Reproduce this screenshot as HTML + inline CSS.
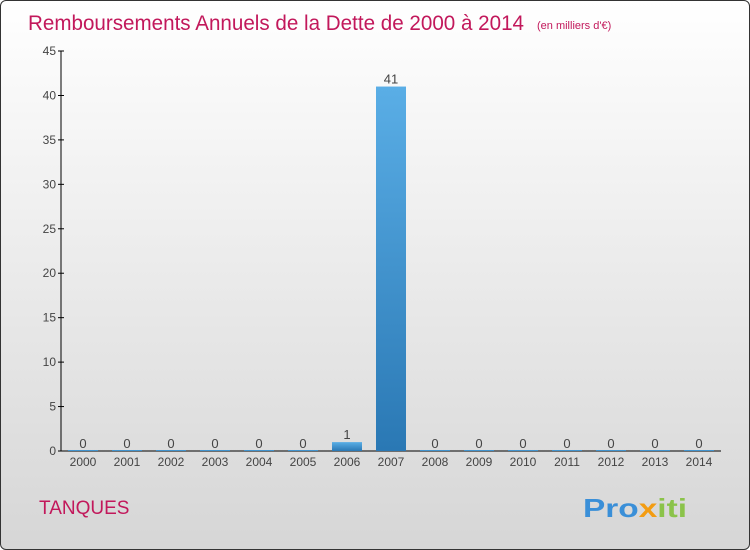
<!DOCTYPE html>
<html><head><meta charset="utf-8"><style>
body{margin:0;}
#c{position:relative;width:748px;height:548px;border:1px solid #333;border-radius:6px;overflow:hidden;background:linear-gradient(#ffffff,#d6d6d6);font-family:"Liberation Sans",sans-serif;}
svg{position:absolute;left:0;top:0;}
</style></head><body>
<div id="c">
<svg id="s" width="750" height="550">
<defs><linearGradient id="g" x1="0" y1="0" x2="0" y2="1"><stop offset="0" stop-color="#5aaee6"/><stop offset="1" stop-color="#2a78b4"/></linearGradient></defs>
<text x="27" y="29" font-size="21" fill="#c2185b" textLength="496" lengthAdjust="spacingAndGlyphs">Remboursements Annuels de la Dette de 2000 à 2014</text>
<text x="536" y="28" font-size="11" fill="#c2185b">(en milliers d'€)</text>
<text x="38" y="513" font-size="19" fill="#c2185b">TANQUES</text>
<text x="582" y="516" font-size="26" font-weight="bold" textLength="104" lengthAdjust="spacingAndGlyphs"><tspan fill="#3a8fd8">Pro</tspan><tspan fill="#f39c12">x</tspan><tspan fill="#8bc34a">iti</tspan></text>
</svg>
</div>
<script>
const years=["2000","2001","2002","2003","2004","2005","2006","2007","2008","2009","2010","2011","2012","2013","2014"];
const values=[0,0,0,0,0,0,1,41,0,0,0,0,0,0,0];
const yTicks=[0,5,10,15,20,25,30,35,40,45];
const NS="http://www.w3.org/2000/svg",s=document.getElementById('s');
const y=v=>450-v*400/45, x=i=>82+i*44;
function mk(t,a){const e=document.createElementNS(NS,t);for(const k in a)e.setAttribute(k,a[k]);s.appendChild(e);return e;}
let ax=mk('line',{x1:60,y1:50,x2:60,y2:450,stroke:'#000'});


let bx=mk('line',{x1:60,y1:450,x2:720,y2:450,stroke:'#000'});


yTicks.forEach(v=>{
 const tk=mk('line',{x1:57,y1:y(v),x2:63,y2:y(v),stroke:'#000'});
 
 
 const t=mk('text',{x:55,y:y(v)+4,'font-size':12,fill:'#444','text-anchor':'end'});t.textContent=v;
 
 
});
years.forEach((yr,i)=>{
 const cx=x(i),v=values[i];
 const b=mk('rect',{x:cx-15,y:y(v)-(v>0?0:1),width:30,height:Math.max(450-y(v),1),fill:'url(#g)'});
 
 
 const l=mk('text',{x:cx,y:y(v)-3,'font-size':13,fill:'#444','text-anchor':'middle'});l.textContent=v;
 
 
 const xl=mk('text',{x:cx,y:465,'font-size':12,fill:'#444','text-anchor':'middle'});xl.textContent=yr;
 
 
});
</script>
</body></html>
